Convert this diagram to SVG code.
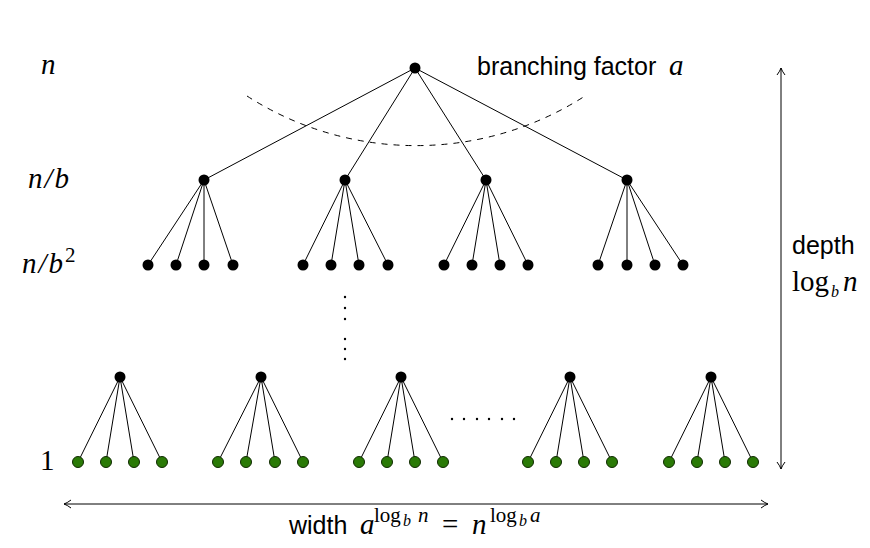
<svg xmlns="http://www.w3.org/2000/svg" width="870" height="548" viewBox="0 0 870 548">
<style>
.e{stroke:#000;stroke-width:1;fill:none}
.n{fill:#000}
.g{fill:#2a7a06;stroke:#0f2a00;stroke-width:1}
.m{font-family:"Liberation Serif",serif;font-style:italic;font-size:29px;fill:#000}
.r{font-family:"Liberation Serif",serif;font-style:normal;font-size:29px;fill:#000}
.s{font-family:"Liberation Sans",sans-serif;font-size:25px;fill:#000}
.sup{font-size:21px}
.sub{font-size:16px}
</style>
<defs>
<marker id="ah" viewBox="0 0 10 10" refX="9" refY="5" markerWidth="10" markerHeight="10" markerUnits="userSpaceOnUse" orient="auto-start-reverse">
<path d="M2,1 Q6,4 9,5 Q6,6 2,9" fill="none" stroke="#000" stroke-width="1"/>
</marker>
</defs>
<g id="connectors">
<path class="e" d="M415,68 L204,180 M415,68 L345,180 M415,68 L486,180 M415,68 L627,180"/>
<path class="e" d="M204,180 L148,265 M204,180 L176,265 M204,180 L204,265 M204,180 L233,265"/>
<path class="e" d="M345,180 L303,265 M345,180 L331,265 M345,180 L359,265 M345,180 L388,265"/>
<path class="e" d="M486,180 L444,265 M486,180 L472,265 M486,180 L500,265 M486,180 L528,265"/>
<path class="e" d="M627,180 L598,265 M627,180 L627,265 M627,180 L655,265 M627,180 L683,265"/>
<path class="e" d="M120,377 L78,462 M120,377 L106,462 M120,377 L134,462 M120,377 L162,462"/>
<path class="e" d="M261,377 L218,462 M261,377 L246,462 M261,377 L275,462 M261,377 L303,462"/>
<path class="e" d="M401,377 L359,462 M401,377 L387,462 M401,377 L415,462 M401,377 L443,462"/>
<path class="e" d="M570,377 L528,462 M570,377 L556,462 M570,377 L584,462 M570,377 L612,462"/>
<path class="e" d="M711,377 L669,462 M711,377 L697,462 M711,377 L725,462 M711,377 L753,462"/>
<path class="e" d="M247,96 A312.6,312.6 0 0 0 585,96" stroke-dasharray="6,6"/>
<line class="e" x1="781" y1="469" x2="781" y2="68" marker-start="url(#ah)" marker-end="url(#ah)"/>
<line class="e" x1="64" y1="504" x2="768" y2="504" marker-start="url(#ah)" marker-end="url(#ah)"/>
</g>
<g id="root"><circle class="n" cx="415" cy="68" r="5.5"/></g>
<g id="level1">
<circle class="n" cx="204" cy="180" r="5.5"/><circle class="n" cx="345" cy="180" r="5.5"/><circle class="n" cx="486" cy="180" r="5.5"/><circle class="n" cx="627" cy="180" r="5.5"/>
</g>
<g id="level2">
<circle class="n" cx="148" cy="265" r="5.5"/><circle class="n" cx="176" cy="265" r="5.5"/><circle class="n" cx="204" cy="265" r="5.5"/><circle class="n" cx="233" cy="265" r="5.5"/>
<circle class="n" cx="303" cy="265" r="5.5"/><circle class="n" cx="331" cy="265" r="5.5"/><circle class="n" cx="359" cy="265" r="5.5"/><circle class="n" cx="388" cy="265" r="5.5"/>
<circle class="n" cx="444" cy="265" r="5.5"/><circle class="n" cx="472" cy="265" r="5.5"/><circle class="n" cx="500" cy="265" r="5.5"/><circle class="n" cx="528" cy="265" r="5.5"/>
<circle class="n" cx="598" cy="265" r="5.5"/><circle class="n" cx="627" cy="265" r="5.5"/><circle class="n" cx="655" cy="265" r="5.5"/><circle class="n" cx="683" cy="265" r="5.5"/>
</g>
<g id="vdots" fill="#000">
<circle cx="345" cy="297" r="1.2"/><circle cx="345" cy="308" r="1.2"/><circle cx="345" cy="319" r="1.2"/>
<circle cx="345" cy="339" r="1.2"/><circle cx="345" cy="349" r="1.2"/><circle cx="345" cy="359" r="1.2"/>
</g>
<g id="hdots" fill="#000">
<circle cx="452" cy="419" r="1.2"/><circle cx="464" cy="419" r="1.2"/><circle cx="477" cy="419" r="1.2"/><circle cx="489" cy="419" r="1.2"/><circle cx="502" cy="419" r="1.2"/><circle cx="514" cy="419" r="1.2"/>
</g>
<g id="lastparents">
<circle class="n" cx="120" cy="377" r="5.5"/><circle class="n" cx="261" cy="377" r="5.5"/><circle class="n" cx="401" cy="377" r="5.5"/><circle class="n" cx="570" cy="377" r="5.5"/><circle class="n" cx="711" cy="377" r="5.5"/>
</g>
<g id="leaves">
<circle class="g" cx="78" cy="462" r="5.5"/><circle class="g" cx="106" cy="462" r="5.5"/><circle class="g" cx="134" cy="462" r="5.5"/><circle class="g" cx="162" cy="462" r="5.5"/>
<circle class="g" cx="218" cy="462" r="5.5"/><circle class="g" cx="246" cy="462" r="5.5"/><circle class="g" cx="275" cy="462" r="5.5"/><circle class="g" cx="303" cy="462" r="5.5"/>
<circle class="g" cx="359" cy="462" r="5.5"/><circle class="g" cx="387" cy="462" r="5.5"/><circle class="g" cx="415" cy="462" r="5.5"/><circle class="g" cx="443" cy="462" r="5.5"/>
<circle class="g" cx="528" cy="462" r="5.5"/><circle class="g" cx="556" cy="462" r="5.5"/><circle class="g" cx="584" cy="462" r="5.5"/><circle class="g" cx="612" cy="462" r="5.5"/>
<circle class="g" cx="669" cy="462" r="5.5"/><circle class="g" cx="697" cy="462" r="5.5"/><circle class="g" cx="725" cy="462" r="5.5"/><circle class="g" cx="753" cy="462" r="5.5"/>
</g>
<g id="labels">
<text class="m" x="41" y="74">n</text>
<text class="m" x="28" y="188" letter-spacing="2">n/b</text>
<text class="m" x="22" y="273" letter-spacing="2">n/b<tspan class="r sup" dy="-11" letter-spacing="0">2</tspan></text>
<text class="r" x="40" y="470">1</text>
<text class="s" x="477" y="75">branching factor</text>
<text class="m" x="669" y="75">a</text>
<text class="s" x="792" y="254">depth</text>
<text class="r" x="792" y="291">log<tspan class="m sub" x="831" dy="6">b</tspan><tspan class="m" x="843" dy="-6">n</tspan></text>
<text class="s" x="289" y="534">width</text>
<text class="m" x="360" y="534">a<tspan class="r sup" x="374" dy="-12">log</tspan><tspan class="m sub" x="403" dy="4">b</tspan><tspan class="m sup" x="418" dy="-4">n</tspan></text>
<text class="r" x="442" y="534">=</text>
<text class="m" x="472" y="534">n<tspan class="r sup" x="490" dy="-12">log</tspan><tspan class="m sub" x="519" dy="4">b</tspan><tspan class="m sup" x="530" dy="-4">a</tspan></text>
</g>
</svg>
